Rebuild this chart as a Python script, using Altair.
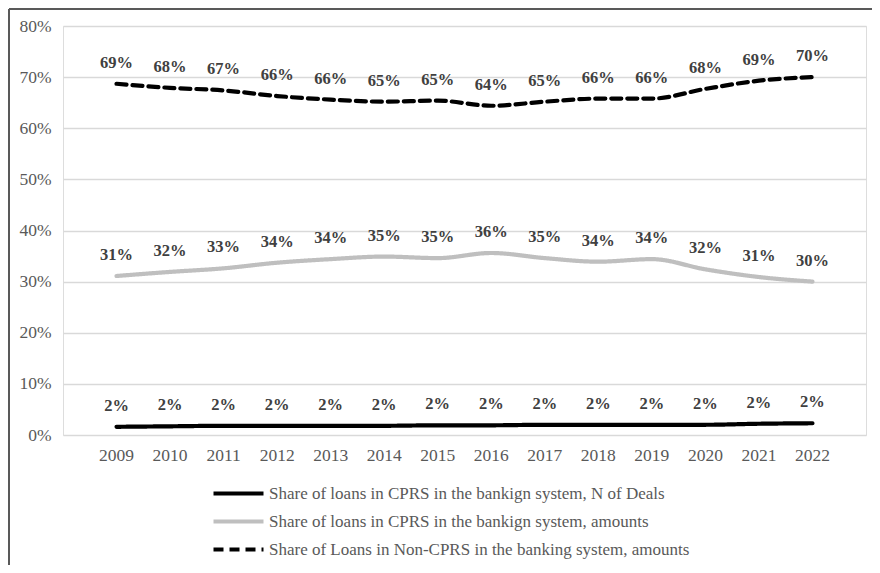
import altair as alt
import pandas as pd

years = [str(y) for y in range(2009, 2023)]
s_deals = [0.016, 0.017, 0.018, 0.018, 0.018, 0.018, 0.019, 0.019, 0.020, 0.020, 0.020, 0.020, 0.022, 0.023]
s_amounts = [0.311, 0.319, 0.326, 0.337, 0.344, 0.349, 0.346, 0.356, 0.346, 0.339, 0.344, 0.324, 0.309, 0.300]
s_noncprs = [0.687, 0.679, 0.674, 0.663, 0.656, 0.652, 0.654, 0.644, 0.652, 0.658, 0.658, 0.677, 0.693, 0.700]

names = [
    "Share of loans in CPRS in the bankign system, N of Deals",
    "Share of loans in CPRS in the bankign system, amounts",
    "Share of Loans in Non-CPRS in the banking system, amounts",
]
y_ticks = [0, 0.1, 0.2, 0.3, 0.4, 0.5, 0.6, 0.7, 0.8]

rows = []
for name, vals in zip(names, [s_deals, s_amounts, s_noncprs]):
    for yr, v in zip(years, vals):
        rows.append({"year": yr, "value": v, "series": name})
df = pd.DataFrame(rows)

W, H = 803, 409
FONT = "Liberation Serif"

x_enc = alt.X("year:N", sort=years, title=None,
              scale=alt.Scale(paddingInner=0, paddingOuter=0.5, type="band"),
              axis=alt.Axis(labelAngle=0, domain=False, ticks=False, grid=False,
                            labelPadding=11, labelFontSize=17.5, labelFont=FONT,
                            labelColor="#595959"))
y_enc = alt.Y("value:Q", title=None,
              scale=alt.Scale(domain=[0, 0.8], nice=False),
              axis=alt.Axis(values=y_ticks, format=".0%", domain=False, ticks=False,
                            gridColor="#d9d9d9", gridWidth=1.3, labelPadding=12,
                            labelFontSize=17.5, labelFont=FONT, labelColor="#595959"))

leg = dict(title=None, orient="none", legendX=163, legendY=455,
           symbolType="M-2.5,0H2.5", symbolSize=400, symbolStrokeWidth=4.2,
           symbolFillColor="transparent",
           labelFont=FONT, labelFontSize=17, labelColor="#595959",
           rowPadding=7, labelOffset=18, labelLimit=700)

lines = alt.Chart(df).mark_line(strokeWidth=4.2, interpolate="monotone", strokeCap="round").encode(
    x=x_enc,
    y=y_enc,
    color=alt.Color("series:N", scale=alt.Scale(domain=names, range=["#000000", "#bfbfbf", "#000000"]),
                    legend=alt.Legend(**leg)),
    strokeDash=alt.StrokeDash("series:N", scale=alt.Scale(domain=names, range=[[1, 0], [1, 0], [10, 6]]),
                              legend=alt.Legend(**leg)),
)

labels = alt.Chart(df).mark_text(dy=-21, fontWeight="bold", font=FONT, fontSize=16.5, color="#404040").encode(
    x=alt.X("year:N", sort=years),
    y=alt.Y("value:Q"),
    text=alt.Text("value:Q", format=".0%"),
)

frame_top = alt.Chart(df).mark_rule(color="#595959", strokeWidth=2).encode(
    x=alt.value(-54), x2=alt.value(W + 10), y=alt.value(-17)
)
frame_left = alt.Chart(df).mark_rule(color="#595959", strokeWidth=2).encode(
    x=alt.value(-54), y=alt.value(-17), y2=alt.value(H + 150)
)

chart = alt.layer(lines, labels, frame_top, frame_left).properties(
    width=W, height=H,
    autosize=alt.AutoSizeParams(type="none"),
    padding={"left": 55, "top": 18, "right": 6, "bottom": 130},
).configure_view(stroke=None).configure(background="white")

chart.save("out.html", embed_options={"renderer": "svg", "actions": False})
